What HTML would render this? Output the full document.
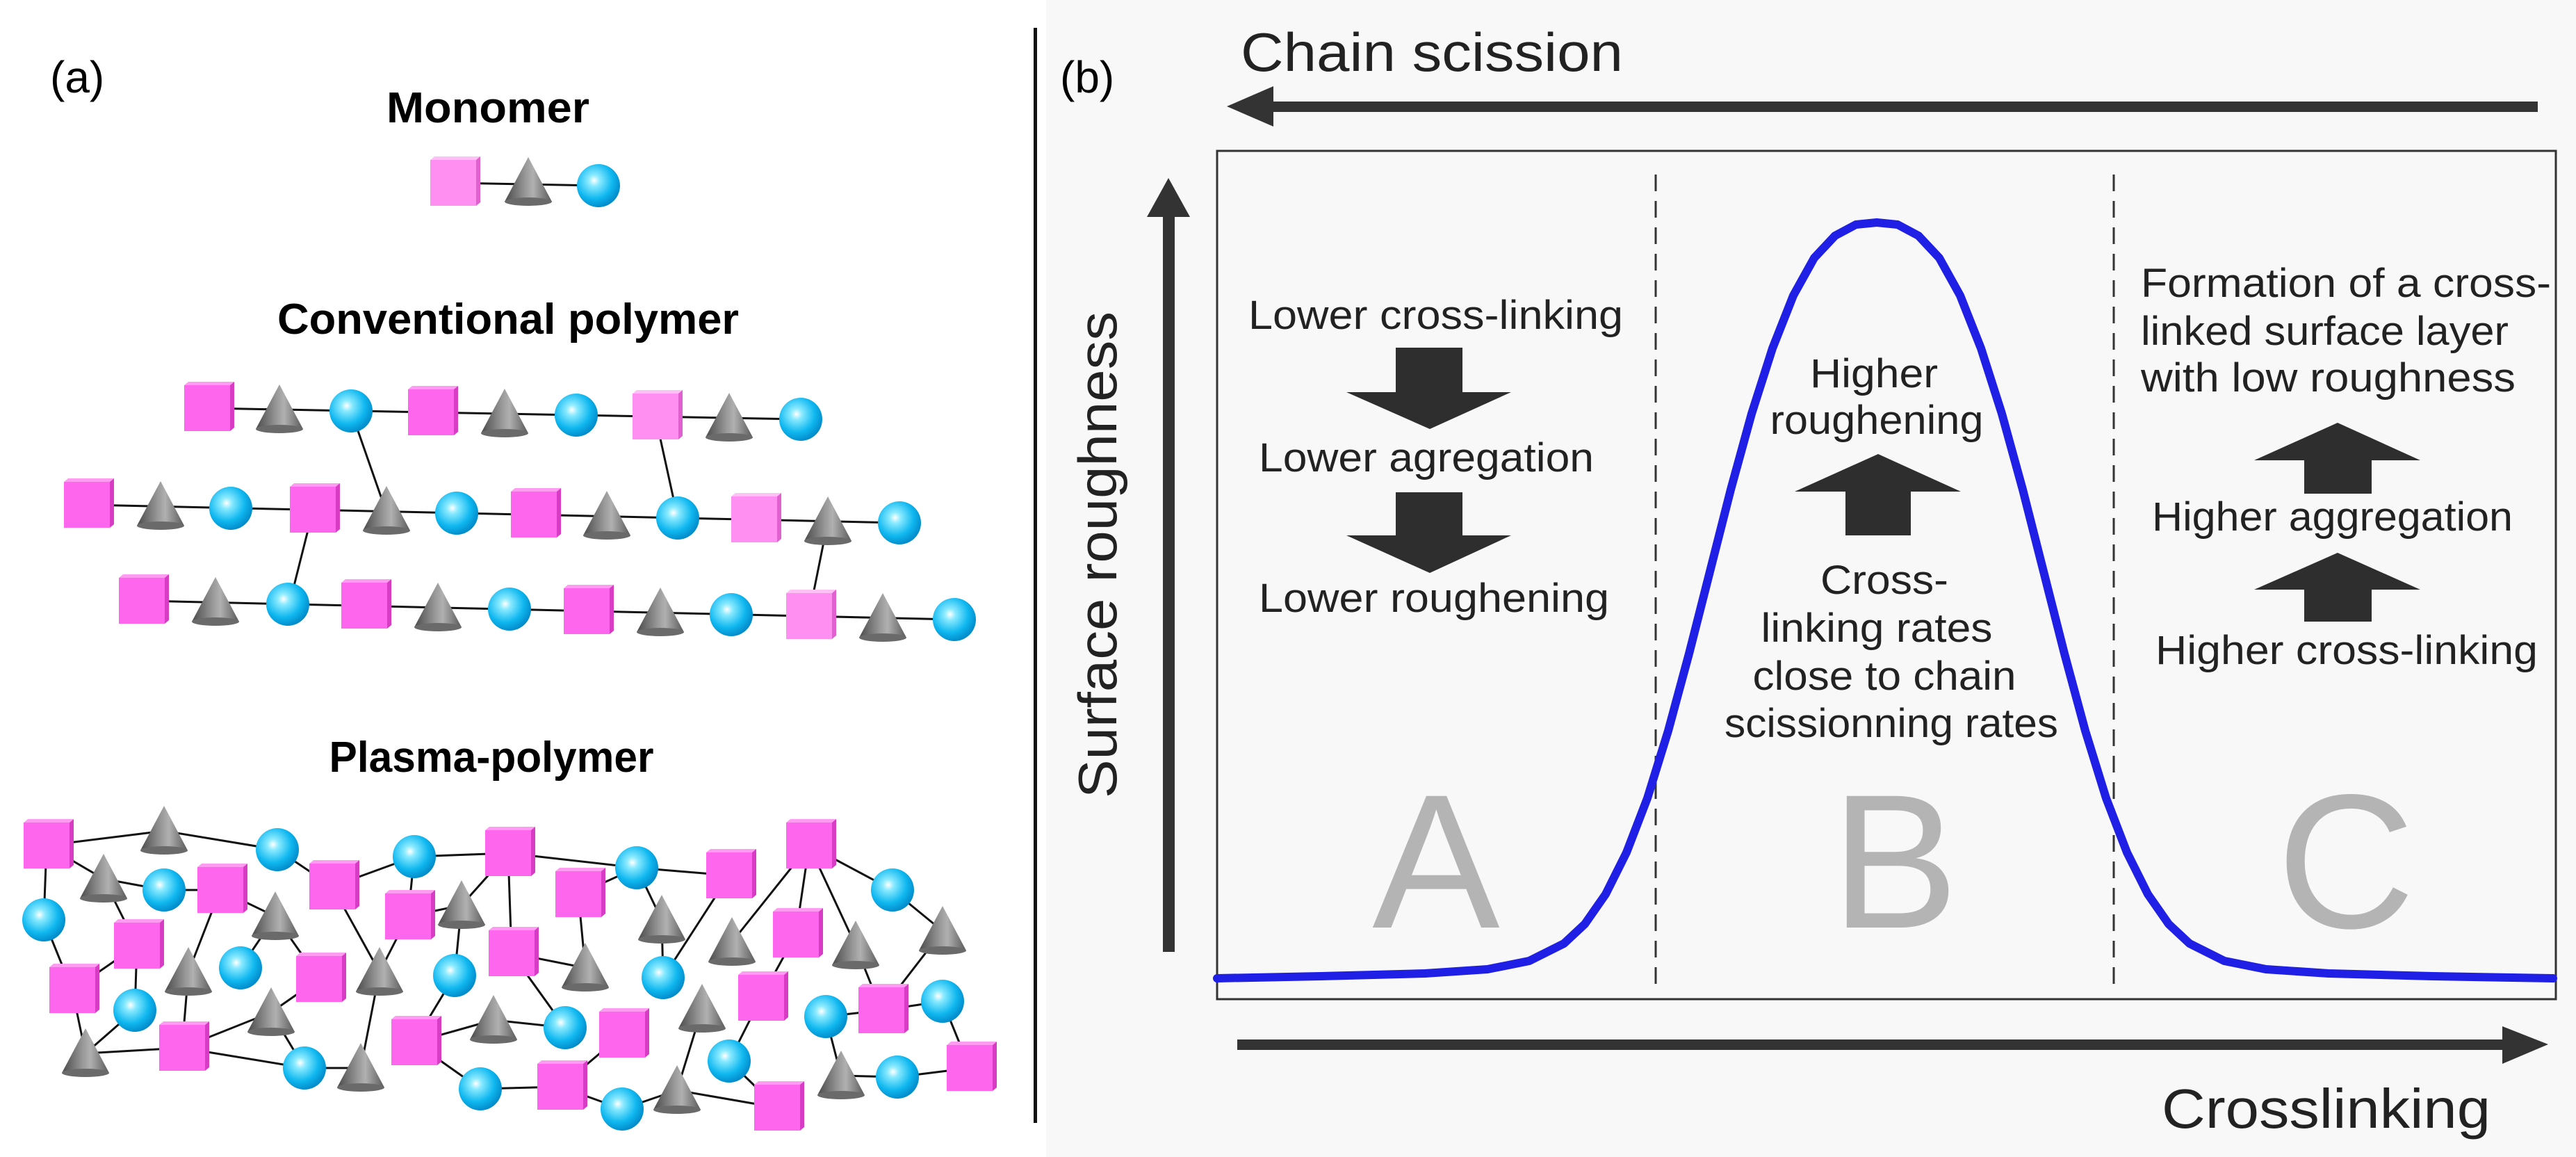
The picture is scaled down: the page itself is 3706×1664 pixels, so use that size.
<!DOCTYPE html>
<html><head><meta charset="utf-8"><style>
html,body{margin:0;padding:0;background:#fff;}
svg{display:block;}
text{font-family:"Liberation Sans",sans-serif;}
</style></head><body>
<svg width="3706" height="1664" viewBox="0 0 3706 1664" xmlns="http://www.w3.org/2000/svg">
<defs>
<radialGradient id="sg" cx="0.4" cy="0.38" r="0.65">
<stop offset="0" stop-color="#ffffff"/><stop offset="0.2" stop-color="#8aeaff"/><stop offset="0.65" stop-color="#10b8f0"/><stop offset="1" stop-color="#0088c8"/>
</radialGradient>
<linearGradient id="cg" x1="0" x2="1" y1="0" y2="0">
<stop offset="0" stop-color="#4a4a4a"/><stop offset="0.45" stop-color="#9a9a9a"/><stop offset="0.6" stop-color="#b0b0b0"/><stop offset="1" stop-color="#5a5a5a"/>
</linearGradient>
<g id="S"><polygon points="-33,-33 -27,-38 39,-38 33,-33" fill="#ff9cf2"/><polygon points="33,-33 39,-38 39,28 33,33" fill="#d83cc4"/><rect x="-33" y="-33" width="66" height="66" fill="#ff66ee"/></g>
<g id="L"><polygon points="-33,-33 -27,-38 39,-38 33,-33" fill="#ffc0f6"/><polygon points="33,-33 39,-38 39,28 33,33" fill="#e060d0"/><rect x="-33" y="-33" width="66" height="66" fill="#ff8ff0"/></g>
<g id="T"><polygon points="0,-36 -34,28 34,28" fill="url(#cg)"/><ellipse cx="0" cy="28" rx="34" ry="6" fill="#6a6a6a"/></g>
<g id="C"><circle r="31" fill="url(#sg)"/></g>
</defs>
<rect width="3706" height="1664" fill="#fff"/>
<rect x="1505" y="0" width="2201" height="1664" fill="#f8f8f8"/>
<rect x="1487" y="40" width="5" height="1575" fill="#111"/>

<!-- Panel a -->
<text x="72" y="133" font-size="64">(a)</text>
<text x="702" y="176" font-size="62" font-weight="bold" text-anchor="middle" textLength="292" lengthAdjust="spacingAndGlyphs">Monomer</text>
<line x1="650" y1="263" x2="861" y2="267" stroke="#111" stroke-width="3"/>
<use href="#L" x="652" y="263"/><use href="#T" x="760" y="262"/><use href="#C" x="861" y="267"/>

<text x="731" y="480" font-size="62" font-weight="bold" text-anchor="middle" textLength="664" lengthAdjust="spacingAndGlyphs">Conventional polymer</text>
<g stroke="#111" stroke-width="3">
<line x1="298" y1="587" x2="1152" y2="603"/>
<line x1="125" y1="726" x2="1294" y2="752"/>
<line x1="204" y1="864" x2="1373" y2="891"/>
<line x1="505" y1="591" x2="556" y2="737"/>
<line x1="943" y1="599" x2="975" y2="745"/>
<line x1="450" y1="735" x2="414" y2="878"/>
<line x1="1191" y1="750" x2="1164" y2="884"/>
</g>
<use href="#S" x="298" y="587"/><use href="#T" x="402" y="589"/><use href="#C" x="505" y="591"/><use href="#S" x="620" y="593"/><use href="#T" x="726" y="595"/><use href="#C" x="829" y="597"/><use href="#L" x="943" y="599"/><use href="#T" x="1049" y="601"/><use href="#C" x="1152" y="603"/>
<use href="#S" x="125" y="726"/><use href="#T" x="231" y="728"/><use href="#C" x="332" y="731"/><use href="#S" x="450" y="733"/><use href="#T" x="556" y="735"/><use href="#C" x="657" y="738"/><use href="#S" x="768" y="740"/><use href="#T" x="873" y="742"/><use href="#C" x="975" y="745"/><use href="#L" x="1085" y="747"/><use href="#T" x="1191" y="750"/><use href="#C" x="1294" y="752"/>
<use href="#S" x="204" y="864"/><use href="#T" x="310" y="866"/><use href="#C" x="414" y="869"/><use href="#S" x="524" y="871"/><use href="#T" x="630" y="874"/><use href="#C" x="733" y="876"/><use href="#S" x="844" y="879"/><use href="#T" x="950" y="881"/><use href="#C" x="1052" y="884"/><use href="#L" x="1164" y="886"/><use href="#T" x="1270" y="889"/><use href="#C" x="1373" y="891"/>

<text x="707" y="1110" font-size="62" font-weight="bold" text-anchor="middle" textLength="467" lengthAdjust="spacingAndGlyphs">Plasma-polymer</text>
<g stroke="#111" stroke-width="3">
<line x1="67" y1="1216" x2="236" y2="1195"/><line x1="236" y1="1195" x2="399" y2="1222"/><line x1="399" y1="1222" x2="478" y2="1275"/><line x1="478" y1="1275" x2="596" y2="1232"/><line x1="596" y1="1232" x2="731" y2="1227"/><line x1="731" y1="1227" x2="916" y2="1248"/><line x1="916" y1="1248" x2="1049" y2="1259"/><line x1="67" y1="1216" x2="149" y2="1264"/><line x1="149" y1="1264" x2="236" y2="1280"/><line x1="149" y1="1264" x2="197" y2="1360"/><line x1="67" y1="1216" x2="63" y2="1323"/><line x1="63" y1="1323" x2="104" y2="1424"/><line x1="236" y1="1280" x2="317" y2="1280"/><line x1="317" y1="1280" x2="396" y2="1318"/><line x1="317" y1="1280" x2="271" y2="1398"/><line x1="396" y1="1318" x2="346" y2="1392"/><line x1="396" y1="1318" x2="459" y2="1408"/><line x1="478" y1="1275" x2="546" y2="1398"/><line x1="587" y1="1318" x2="664" y2="1302"/><line x1="664" y1="1302" x2="731" y2="1227"/><line x1="664" y1="1302" x2="654" y2="1403"/><line x1="731" y1="1227" x2="736" y2="1371"/><line x1="736" y1="1371" x2="842" y2="1392"/><line x1="832" y1="1286" x2="916" y2="1248"/><line x1="916" y1="1248" x2="952" y2="1323"/><line x1="952" y1="1323" x2="954" y2="1406"/><line x1="954" y1="1406" x2="1049" y2="1259"/><line x1="1164" y1="1216" x2="1145" y2="1344"/><line x1="1164" y1="1216" x2="1284" y2="1280"/><line x1="1284" y1="1280" x2="1356" y2="1339"/><line x1="1356" y1="1339" x2="1268" y2="1453"/><line x1="1268" y1="1453" x2="1356" y2="1440"/><line x1="1356" y1="1440" x2="1395" y2="1536"/><line x1="1291" y1="1549" x2="1395" y2="1536"/><line x1="1188" y1="1462" x2="1268" y2="1453"/><line x1="1188" y1="1462" x2="1210" y2="1547"/><line x1="1210" y1="1547" x2="1291" y2="1549"/><line x1="1095" y1="1435" x2="1145" y2="1344"/><line x1="1095" y1="1435" x2="1049" y2="1526"/><line x1="1010" y1="1451" x2="974" y2="1568"/><line x1="974" y1="1568" x2="1118" y2="1593"/><line x1="974" y1="1568" x2="895" y2="1595"/><line x1="895" y1="1595" x2="806" y2="1563"/><line x1="806" y1="1563" x2="895" y2="1488"/><line x1="710" y1="1467" x2="596" y2="1499"/><line x1="596" y1="1499" x2="654" y2="1403"/><line x1="596" y1="1499" x2="691" y2="1566"/><line x1="691" y1="1566" x2="806" y2="1563"/><line x1="710" y1="1467" x2="813" y2="1478"/><line x1="736" y1="1371" x2="813" y2="1478"/><line x1="546" y1="1398" x2="519" y2="1536"/><line x1="587" y1="1318" x2="546" y2="1398"/><line x1="519" y1="1536" x2="438" y2="1536"/><line x1="438" y1="1536" x2="262" y2="1507"/><line x1="262" y1="1507" x2="390" y2="1456"/><line x1="390" y1="1456" x2="459" y2="1408"/><line x1="262" y1="1507" x2="123" y2="1515"/><line x1="123" y1="1515" x2="104" y2="1424"/><line x1="123" y1="1515" x2="194" y2="1453"/><line x1="194" y1="1453" x2="197" y2="1360"/><line x1="104" y1="1424" x2="197" y2="1360"/><line x1="262" y1="1507" x2="271" y2="1398"/><line x1="842" y1="1392" x2="832" y2="1286"/><line x1="1049" y1="1526" x2="1118" y2="1593"/><line x1="596" y1="1232" x2="587" y2="1318"/><line x1="1164" y1="1216" x2="1231" y2="1360"/><line x1="1231" y1="1360" x2="1268" y2="1453"/><line x1="1053" y1="1355" x2="1164" y2="1216"/><line x1="438" y1="1536" x2="390" y2="1456"/>
</g>
<use href="#S" x="67" y="1216"/><use href="#T" x="236" y="1195"/><use href="#C" x="399" y="1222"/><use href="#C" x="596" y="1232"/><use href="#S" x="731" y="1227"/><use href="#C" x="916" y="1248"/><use href="#S" x="1049" y="1259"/><use href="#S" x="1164" y="1216"/>
<use href="#T" x="149" y="1264"/><use href="#C" x="236" y="1280"/><use href="#S" x="317" y="1280"/><use href="#S" x="478" y="1275"/><use href="#T" x="396" y="1318"/><use href="#S" x="587" y="1318"/><use href="#T" x="664" y="1302"/><use href="#S" x="832" y="1286"/><use href="#T" x="952" y="1323"/><use href="#C" x="1284" y="1280"/>
<use href="#C" x="63" y="1323"/><use href="#S" x="197" y="1360"/><use href="#T" x="271" y="1398"/><use href="#C" x="346" y="1392"/><use href="#S" x="459" y="1408"/><use href="#T" x="546" y="1398"/><use href="#C" x="654" y="1403"/><use href="#S" x="736" y="1371"/><use href="#T" x="842" y="1392"/><use href="#C" x="954" y="1406"/><use href="#T" x="1053" y="1355"/><use href="#S" x="1145" y="1344"/><use href="#T" x="1231" y="1360"/><use href="#T" x="1356" y="1339"/>
<use href="#S" x="104" y="1424"/><use href="#C" x="194" y="1453"/><use href="#T" x="390" y="1456"/><use href="#S" x="596" y="1499"/><use href="#T" x="710" y="1467"/><use href="#C" x="813" y="1478"/><use href="#S" x="895" y="1488"/><use href="#T" x="1010" y="1451"/><use href="#S" x="1095" y="1435"/><use href="#C" x="1188" y="1462"/><use href="#S" x="1268" y="1453"/><use href="#C" x="1356" y="1440"/>
<use href="#T" x="123" y="1515"/><use href="#S" x="262" y="1507"/><use href="#C" x="438" y="1536"/><use href="#T" x="519" y="1536"/><use href="#C" x="691" y="1566"/><use href="#S" x="806" y="1563"/><use href="#C" x="895" y="1595"/><use href="#T" x="974" y="1568"/><use href="#C" x="1049" y="1526"/><use href="#S" x="1118" y="1593"/><use href="#T" x="1210" y="1547"/><use href="#C" x="1291" y="1549"/><use href="#S" x="1395" y="1536"/>

<!-- Panel b -->
<text x="1525" y="133" font-size="64">(b)</text>
<text x="1785" y="102" font-size="78" textLength="550" lengthAdjust="spacingAndGlyphs" fill="#222">Chain scission</text>
<rect x="1815" y="146" width="1836" height="15" fill="#333"/>
<polygon points="1765,153 1832,124 1832,182" fill="#333"/>

<rect x="1751" y="217" width="1926" height="1220" fill="none" stroke="#333" stroke-width="3"/>
<rect x="1673" y="300" width="17" height="1069" fill="#333"/>
<polygon points="1650,312 1681,256 1712,312" fill="#333"/>
<text transform="translate(1606,798) rotate(-90)" font-size="78" text-anchor="middle" textLength="700" lengthAdjust="spacingAndGlyphs" fill="#222">Surface roughness</text>

<g stroke="#333" stroke-width="3" stroke-dasharray="24,14">
<line x1="2382" y1="251" x2="2382" y2="1419"/><line x1="3041" y1="251" x2="3041" y2="1419"/>
</g>

<g fill="#b4b4b4" font-size="275" text-anchor="middle">
<text x="2066" y="1334">A</text><text x="2726" y="1334">B</text><text x="3375" y="1334">C</text>
</g>

<polyline fill="none" stroke="#1f1fe6" stroke-width="12" stroke-linejoin="round" stroke-linecap="round" points="1751,1407 1900,1404 2050,1400 2140,1394 2200,1382 2250,1357 2280,1329 2310,1286 2340,1226 2370,1148 2400,1051 2430,940 2460,822 2490,704 2520,595 2550,501 2580,425 2610,371 2640,339 2670,323 2700,320 2730,323 2760,339 2790,371 2820,425 2850,501 2880,595 2910,704 2940,822 2970,940 3000,1051 3030,1148 3060,1226 3090,1286 3120,1329 3150,1357 3200,1382 3260,1394 3350,1400 3500,1404 3673,1407"/>

<g font-size="58" fill="#222">
<text x="1796" y="473" textLength="539" lengthAdjust="spacingAndGlyphs">Lower cross-linking</text>
<text x="1811" y="678" textLength="482" lengthAdjust="spacingAndGlyphs">Lower agregation</text>
<text x="1811" y="880" textLength="504" lengthAdjust="spacingAndGlyphs">Lower roughening</text>
<text x="2696" y="557" text-anchor="middle" textLength="184" lengthAdjust="spacingAndGlyphs">Higher</text>
<text x="2700" y="624" text-anchor="middle" textLength="307" lengthAdjust="spacingAndGlyphs">roughening</text>
<text x="2711" y="854" text-anchor="middle" textLength="184" lengthAdjust="spacingAndGlyphs">Cross-</text>
<text x="2700" y="923" text-anchor="middle" textLength="333" lengthAdjust="spacingAndGlyphs">linking rates</text>
<text x="2711" y="992" text-anchor="middle" textLength="379" lengthAdjust="spacingAndGlyphs">close to chain</text>
<text x="2721" y="1060" text-anchor="middle" textLength="480" lengthAdjust="spacingAndGlyphs">scissionning rates</text>
<text x="3080" y="427" textLength="590" lengthAdjust="spacingAndGlyphs">Formation of a cross-</text>
<text x="3080" y="496" textLength="529" lengthAdjust="spacingAndGlyphs">linked surface layer</text>
<text x="3080" y="563" textLength="539" lengthAdjust="spacingAndGlyphs">with low roughness</text>
<text x="3096" y="763" textLength="519" lengthAdjust="spacingAndGlyphs">Higher aggregation</text>
<text x="3101" y="955" textLength="550" lengthAdjust="spacingAndGlyphs">Higher cross-linking</text>
</g>

<g fill="#2e2e2e">
<polygon points="2008,500 2104,500 2104,564 2174,564 2057,617 1937,564 2008,564"/>
<polygon points="2008,708 2104,708 2104,770 2174,770 2057,824 1937,770 2008,770"/>
<polygon points="2655,770 2749,770 2749,707 2821,707 2702,653 2582,707 2655,707"/>
<polygon points="3315,710 3412,710 3412,662 3482,662 3363,608 3243,662 3315,662"/>
<polygon points="3315,894 3412,894 3412,848 3482,848 3363,795 3243,848 3315,848"/>
</g>

<rect x="1780" y="1495" width="1830" height="15" fill="#333"/>
<polygon points="3600,1476 3666,1502 3600,1530" fill="#333"/>
<text x="3110" y="1622" font-size="80" textLength="473" lengthAdjust="spacingAndGlyphs" fill="#222">Crosslinking</text>
</svg>
</body></html>
